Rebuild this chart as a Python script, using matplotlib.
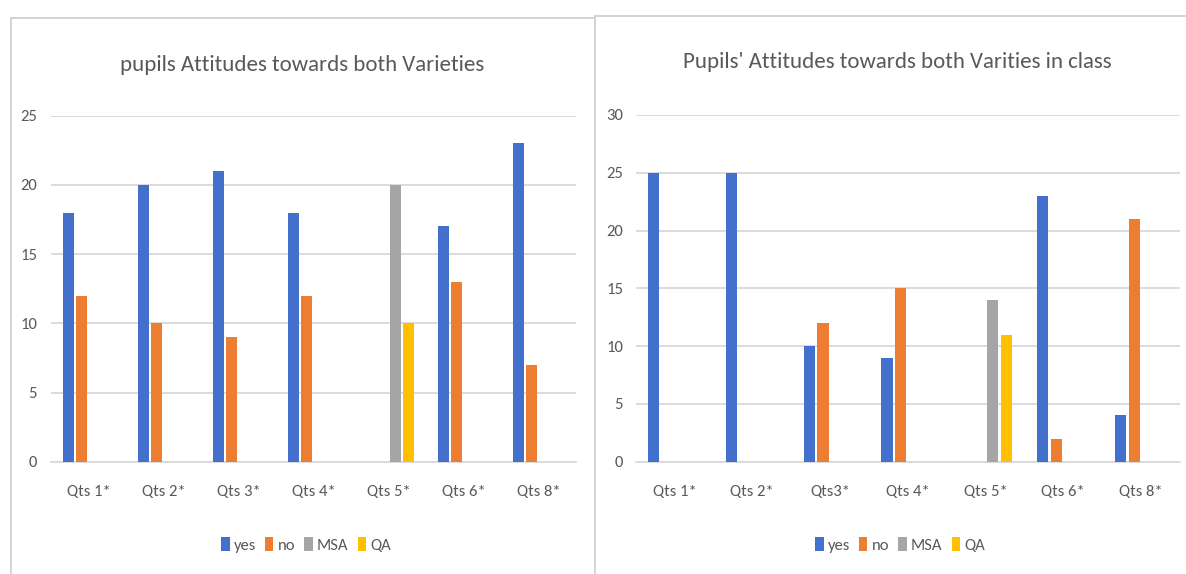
import numpy as np
import matplotlib
matplotlib.use("Agg")
import matplotlib.pyplot as plt
from matplotlib import font_manager
from matplotlib.lines import Line2D
from matplotlib.patches import Patch

# ---- data -------------------------------------------------------------
series_names = ["yes", "no", "MSA", "QA"]

left_title = "pupils Attitudes towards both Varieties"
left_categories = ["Qts 1*", "Qts 2*", "Qts 3*", "Qts 4*", "Qts 5*", "Qts 6*", "Qts 8*"]
left_yes = [18, 20, 21, 18, 0, 17, 23]
left_no = [12, 10, 9, 12, 0, 13, 7]
left_msa = [0, 0, 0, 0, 20, 0, 0]
left_qa = [0, 0, 0, 0, 10, 0, 0]
left_yticks = [0, 5, 10, 15, 20, 25]

right_title = "Pupils' Attitudes towards both Varities in class"
right_categories = ["Qts 1*", "Qts 2*", "Qts3*", "Qts 4*", "Qts 5*", "Qts 6*", "Qts 8*"]
right_yes = [25, 25, 10, 9, 0, 23, 4]
right_no = [0, 0, 12, 15, 0, 2, 21]
right_msa = [0, 0, 0, 0, 14, 0, 0]
right_qa = [0, 0, 0, 0, 11, 0, 0]
right_yticks = [0, 5, 10, 15, 20, 25, 30]

# ---- style ------------------------------------------------------------
colors = ["#4270CC", "#ED7D31", "#A5A5A5", "#FFC000"]
text_color = "#595959"
grid_color = "#D9D9D9"
frame_color = "#D0D0D0"
tick_size = 12
title_size = 16.5

# pick a narrow, Calibri-like face if one is installed
available = {f.name for f in font_manager.fontManager.ttflist}
stretch = "normal"
for cand in ["Carlito", "Liberation Sans Narrow", "Arial Narrow", "Open Sans Condensed"]:
    if cand in available:
        family = cand
        break
else:
    family = "Open Sans"
    stretch = "condensed"
plt.rcParams["font.family"] = [family, "DejaVu Sans"]
plt.rcParams["font.stretch"] = stretch

W, H = 1186, 574
fig = plt.figure(figsize=(W / 100, H / 100), dpi=100)
fig.patch.set_facecolor("white")


def fx(x):
    return x / W


def fy(y):
    return 1 - y / H


def draw_panel(rect, categories, values, yticks, ypad):
    left, top, right, bottom = rect
    ax = fig.add_axes([fx(left), fy(bottom), (right - left) / W, (bottom - top) / H])
    n = len(categories)
    x = np.arange(n)
    step = 0.178
    width = 0.145
    for i, (vals, col) in enumerate(zip(values, colors)):
        ax.bar(x + (i - 1.5) * step, vals, width=width, color=col, zorder=3,
               linewidth=0)
    ax.set_xlim(-0.5, n - 0.5)
    ax.set_ylim(yticks[0], yticks[-1])
    ax.set_yticks(yticks)
    ax.set_yticklabels([str(t) for t in yticks])
    ax.set_xticks(x)
    ax.set_xticklabels(categories)
    ax.yaxis.grid(True, color=grid_color, linewidth=1.3, zorder=0)
    for s in ["top", "right", "left"]:
        ax.spines[s].set_visible(False)
    ax.spines["bottom"].set_color(grid_color)
    ax.spines["bottom"].set_linewidth(1.3)
    ax.tick_params(axis="y", length=0, pad=ypad, labelsize=tick_size, labelcolor=text_color)
    ax.tick_params(axis="x", length=0, pad=16.5, labelsize=tick_size, labelcolor=text_color)
    ax.set_facecolor("none")
    return ax


draw_panel((51, 115.7, 576, 461.7), left_categories,
           [left_yes, left_no, left_msa, left_qa], left_yticks, 10)
draw_panel((635.5, 115.0, 1180, 461.7), right_categories,
           [right_yes, right_no, right_msa, right_qa], right_yticks, 9)

# chart titles
fig.text(fx(302), fy(65), left_title, ha="center", va="center",
         fontsize=title_size, color=text_color)
fig.text(fx(897), fy(62), right_title, ha="center", va="center",
         fontsize=title_size, color=text_color)

# legends
handles = [Patch(facecolor=c, edgecolor="none") for c in colors]
for cx in (306, 900):
    fig.legend(handles, series_names, loc="center",
               bbox_to_anchor=(fx(cx), fy(545)), ncol=4, frameon=False,
               handlelength=0.5, handleheight=0.85, handletextpad=0.25,
               columnspacing=0.55, fontsize=tick_size, labelcolor=text_color,
               borderpad=0.2)

# chart-area borders
def fig_line(xs, ys):
    fig.add_artist(Line2D([fx(v) for v in xs], [fy(v) for v in ys],
                          color=frame_color, linewidth=1.3))

fig_line([11, 11], [17.5, 574])
fig_line([11, 593], [17.5, 17.5])
fig_line([594.5, 594.5], [16, 574])
fig_line([594.5, 1186], [16, 16])

fig.savefig("out.png", dpi=100, facecolor="white")
